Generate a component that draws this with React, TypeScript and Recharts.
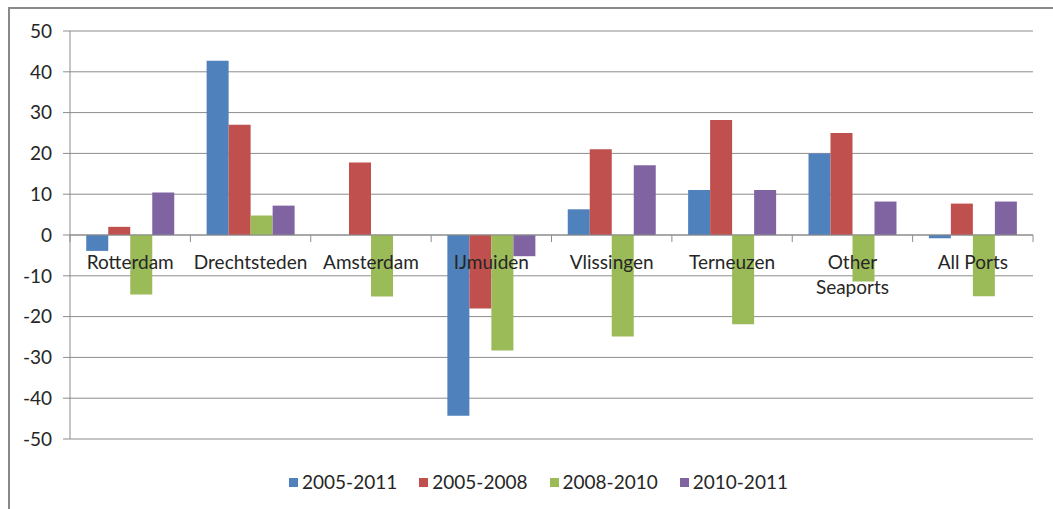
import React from 'react';
import {
  BarChart,
  Bar,
  XAxis,
  YAxis,
  CartesianGrid,
  Legend,
  ReferenceLine,
} from 'recharts';

const ports = ['Rotterdam', 'Drechtsteden', 'Amsterdam', 'IJmuiden', 'Vlissingen', 'Terneuzen', 'Other\nSeaports', 'All Ports'];
const growth0511 = [-3.9, 42.7, null, -44.3, 6.3, 11, 20, -0.8];
const growth0508 = [2, 27, 17.8, -18, 21, 28.2, 25, 7.7];
const growth0810 = [-14.6, 4.8, -15.1, -28.3, -24.9, -21.9, -11.4, -15];
const growth1011 = [10.4, 7.2, null, -5.2, 17.1, 11, 8.2, 8.2];
const yTicks = [-50, -40, -30, -20, -10, 0, 10, 20, 30, 40, 50];

const series = [
  { key: '2005-2011', color: '#4F81BD' },
  { key: '2005-2008', color: '#C0504D' },
  { key: '2008-2010', color: '#9BBB59' },
  { key: '2010-2011', color: '#8064A2' },
];

const data = ports.map((port, i) => ({
  port,
  '2005-2011': growth0511[i],
  '2005-2008': growth0508[i],
  '2008-2010': growth0810[i],
  '2010-2011': growth1011[i],
}));

const W = 1040;
const H = 500;
const MARGIN = { top: 22, right: 17, left: 0, bottom: 0 };
const Y_AXIS_W = 60;
const X_AXIS_H = 30;
const LEGEND_H = 40;
const PLOT_H = H - MARGIN.top - MARGIN.bottom - X_AXIS_H - LEGEND_H;
const PLOT_W = W - MARGIN.left - MARGIN.right - Y_AXIS_W;
const Y_MIN = -50;
const Y_MAX = 50;
const ZERO_Y = MARGIN.top + PLOT_H * (Y_MAX / (Y_MAX - Y_MIN));
const CAT_W = PLOT_W / ports.length;

const AXIS = '#8c8c8c';
const TEXT = '#262626';
const FONT = 'Lato, "Open Sans", sans-serif';

function PortTick(props: any) {
  const { x, payload, index } = props;
  const lines = String(payload.value).split('\n');
  const left = x - CAT_W / 2;
  return (
    <g>
      <line x1={left} x2={left} y1={ZERO_Y} y2={ZERO_Y + 7} stroke={AXIS} strokeWidth={1} />
      {index === ports.length - 1 && (
        <line x1={left + CAT_W} x2={left + CAT_W} y1={ZERO_Y} y2={ZERO_Y + 7} stroke={AXIS} strokeWidth={1} />
      )}
      <text x={x} y={ZERO_Y + 34} textAnchor="middle" fill={TEXT} fontSize={19} fontFamily={FONT}>
        {lines.map((l, i) => (
          <tspan key={i} x={x} dy={i === 0 ? 0 : 25}>{l}</tspan>
        ))}
      </text>
    </g>
  );
}

function SeriesLegend() {
  return (
    <div
      style={{
        display: 'flex',
        justifyContent: 'center',
        paddingLeft: 34,
        paddingTop: 2,
        fontFamily: FONT,
        fontSize: 19,
        color: TEXT,
        lineHeight: '22px',
      }}
    >
      {series.map((s) => (
        <div key={s.key} style={{ display: 'flex', alignItems: 'center', margin: '0 11px' }}>
          <span style={{ width: 9, height: 9, background: s.color, marginRight: 4, display: 'inline-block' }} />
          <span>{s.key}</span>
        </div>
      ))}
    </div>
  );
}

export default function App() {
  return (
    <div
      style={{
        position: 'fixed',
        left: 8,
        top: 7,
        width: 1060,
        height: 530,
        border: '2px solid #898989',
        background: '#fff',
      }}
    >
      <BarChart
        width={W}
        height={H}
        data={data}
        margin={MARGIN}
        barCategoryGap="13.5%"
        barGap={0}
      >
        <CartesianGrid vertical={false} stroke={AXIS} strokeWidth={1} />
        <XAxis
          dataKey="port"
          height={X_AXIS_H}
          axisLine={false}
          tickLine={false}
          interval={0}
          tick={<PortTick />}
        />
        <YAxis
          width={Y_AXIS_W}
          domain={[Y_MIN, Y_MAX]}
          ticks={yTicks}
          interval={0}
          axisLine={{ stroke: AXIS }}
          tickLine={{ stroke: AXIS }}
          tickSize={7}
          tickMargin={11}
          tick={{ fill: TEXT, fontSize: 19, fontFamily: FONT }}
        />
        <ReferenceLine y={0} stroke={AXIS} strokeWidth={1} />
        <Legend verticalAlign="bottom" height={LEGEND_H} content={<SeriesLegend />} />
        {series.map((s) => (
          <Bar key={s.key} dataKey={s.key} fill={s.color} isAnimationActive={false} />
        ))}
      </BarChart>
    </div>
  );
}
